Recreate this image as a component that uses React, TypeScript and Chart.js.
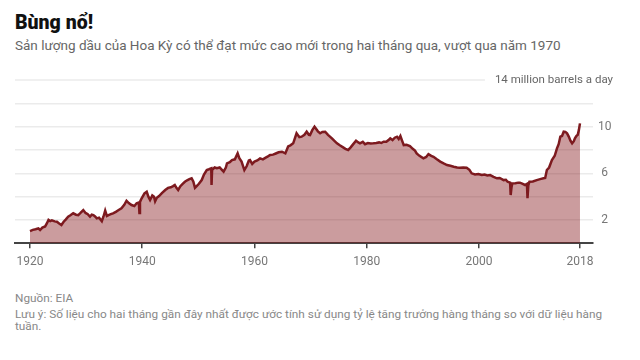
import React, { useEffect, useRef } from "react";
import { Chart, registerables } from "chart.js";

Chart.register(...registerables);

// Decimal years of sampled readings
const years = [
  1920.0, 1920.5, 1921.0, 1921.5, 1921.8, 1922.2, 1922.7, 1923.0, 1923.3, 1923.6,
  1923.9, 1924.4, 1924.8, 1925.2, 1925.6, 1926.0, 1926.4, 1926.8, 1927.2, 1927.7,
  1928.2, 1928.6, 1929.0, 1929.5, 1929.9, 1930.3, 1930.7, 1931.0, 1931.3, 1931.6,
  1931.9, 1932.3, 1932.8, 1933.1, 1933.4, 1933.7, 1934.0, 1934.4, 1934.8, 1935.3,
  1935.8, 1936.3, 1936.8, 1937.2, 1937.6, 1938.1, 1938.6, 1939.0, 1939.4, 1939.5,
  1939.6, 1939.9, 1940.4, 1940.8, 1941.1, 1941.4, 1941.8, 1942.1, 1942.3, 1942.6,
  1943.0, 1943.5, 1944.1, 1944.6, 1945.1, 1945.5, 1945.8, 1946.1, 1946.4, 1946.8,
  1947.2, 1947.6, 1948.0, 1948.4, 1948.8, 1949.1, 1949.4, 1949.7, 1950.1, 1950.6,
  1951.0, 1951.5, 1951.9, 1952.3, 1952.35, 1952.45, 1952.9, 1953.3, 1953.8, 1954.2,
  1954.5, 1954.9, 1955.1, 1955.6, 1956.0, 1956.5, 1957.0, 1957.3, 1957.7, 1958.2,
  1958.6, 1959.0, 1959.2, 1959.6, 1960.0, 1960.5, 1961.0, 1961.5, 1962.0, 1962.4,
  1962.8, 1963.3, 1963.8, 1964.3, 1964.9, 1965.5, 1966.0, 1966.4, 1966.9, 1967.5,
  1968.0, 1968.4, 1968.9, 1969.3, 1969.7, 1969.9, 1970.3, 1970.7, 1971.0, 1971.3,
  1971.7, 1972.1, 1972.6, 1973.1, 1973.8, 1974.2, 1974.7, 1975.2, 1975.8, 1976.2,
  1976.7, 1977.1, 1977.6, 1978.1, 1978.5, 1978.8, 1979.3, 1979.7, 1980.2, 1980.7,
  1981.2, 1981.7, 1982.2, 1982.6, 1983.0, 1983.5, 1984.0, 1984.2, 1984.6, 1985.0,
  1985.4, 1985.7, 1986.0, 1986.3, 1986.6, 1987.1, 1987.7, 1988.2, 1988.6, 1988.9,
  1989.4, 1990.1, 1990.6, 1991.0, 1991.5, 1991.9, 1992.5, 1993.1, 1993.7, 1994.3,
  1994.9, 1995.5, 1996.1, 1996.6, 1997.2, 1997.8, 1998.3, 1998.7, 1999.3, 1999.9,
  2000.5, 2001.0, 2001.5, 2002.0, 2002.6, 2003.2, 2003.7, 2004.4, 2004.8, 2005.1,
  2005.55, 2005.65, 2005.8, 2005.95, 2006.5, 2007.0, 2007.3, 2007.8, 2008.2, 2008.55,
  2008.65, 2008.8, 2009.0, 2009.6, 2010.3, 2010.9, 2011.5, 2011.8, 2012.1, 2012.5,
  2013.0, 2013.5, 2013.9, 2014.2, 2014.5, 2014.8, 2015.1, 2015.4, 2015.7, 2016.0,
  2016.3, 2016.6, 2016.9, 2017.1, 2017.35, 2017.6, 2017.8, 2018.0,
];

// US crude oil production, million barrels a day
const production = [
  1.05, 1.15, 1.2, 1.28, 1.14, 1.35, 1.45, 1.7, 2.0, 1.9,
  1.97, 1.88, 1.85, 1.7, 1.57, 1.85, 2.05, 2.28, 2.4, 2.57,
  2.45, 2.42, 2.6, 2.85, 2.6, 2.5, 2.28, 2.45, 2.42, 2.3,
  2.14, 2.2, 1.9, 2.3, 2.8, 2.35, 2.42, 2.5, 2.57, 2.7,
  2.85, 3.0, 3.3, 3.65, 3.45, 3.28, 3.2, 3.43, 3.5, 2.6,
  3.55, 3.86, 4.28, 4.42, 4.0, 3.71, 4.1, 4.0, 3.6, 3.9,
  4.05, 4.3, 4.57, 4.75, 4.8, 4.9, 5.0, 4.75, 4.57, 4.9,
  5.1, 5.28, 5.4, 5.5, 5.57, 5.3, 4.75, 4.9, 5.1, 5.42,
  5.9, 6.28, 6.35, 6.43, 5.0, 6.3, 6.5, 6.43, 6.5, 6.3,
  6.14, 6.5, 6.85, 6.95, 7.14, 7.2, 7.71, 7.3, 7.0, 6.28,
  6.6, 7.1, 7.14, 6.8, 7.0, 7.1, 7.28, 7.2, 7.35, 7.45,
  7.57, 7.6, 7.7, 7.8, 7.85, 7.71, 8.3, 8.4, 8.57, 9.43,
  9.1, 9.14, 9.3, 9.57, 9.3, 9.28, 9.7, 10.0, 9.8, 9.6,
  9.43, 9.55, 9.57, 9.3, 9.0, 8.8, 8.57, 8.4, 8.22, 8.1,
  8.0, 8.2, 8.5, 8.79, 8.65, 8.57, 8.7, 8.5, 8.6, 8.55,
  8.57, 8.6, 8.65, 8.6, 8.71, 8.7, 8.9, 9.0, 8.85, 9.05,
  9.14, 8.95, 9.2, 8.8, 8.42, 8.45, 8.34, 8.1, 7.95, 7.71,
  7.5, 7.28, 7.4, 7.65, 7.5, 7.42, 7.2, 7.0, 6.85, 6.71,
  6.65, 6.57, 6.5, 6.48, 6.5, 6.48, 6.3, 6.0, 5.9, 5.94,
  5.85, 5.9, 5.82, 5.85, 5.7, 5.57, 5.6, 5.42, 5.45, 5.28,
  5.2, 4.14, 4.8, 5.14, 5.15, 5.2, 5.2, 5.1, 5.0, 5.1,
  3.86, 5.0, 5.28, 5.3, 5.42, 5.5, 5.57, 5.6, 6.28, 6.5,
  7.14, 7.5, 8.14, 8.5, 9.14, 9.2, 9.57, 9.55, 9.43, 9.15,
  8.8, 8.57, 8.75, 9.0, 9.2, 9.3, 9.7, 10.28,
];

const xTickYears = [1920, 1940, 1960, 1980, 2000, 2018];
const yTickValues = [2, 4, 6, 8, 10, 12, 14];
const yLabelledValues = [2, 6, 10];
const topValue = 14;
const topLabel = "14 million barrels a day";

const FONT = "Roboto, 'Noto Sans', sans-serif";
const GRID = "#ebebeb";

export default function App() {
  const ref = useRef<HTMLCanvasElement>(null);

  useEffect(() => {
    if (!ref.current) return;
    const topLinePlugin = {
      id: "topLine",
      beforeDatasetsDraw(chart: any) {
        const { ctx, chartArea, scales } = chart;
        const py = scales.y.getPixelForValue(topValue);
        ctx.save();
        ctx.font = `11.5px ${FONT}`;
        const tx = chartArea.right + 20;
        const w = ctx.measureText(topLabel).width;
        ctx.strokeStyle = GRID;
        ctx.lineWidth = 1.5;
        ctx.beginPath();
        ctx.moveTo(chartArea.left, py);
        ctx.lineTo(tx - w - 10, py);
        ctx.stroke();
        ctx.fillStyle = "#666";
        ctx.textAlign = "right";
        ctx.textBaseline = "middle";
        ctx.fillText(topLabel, tx, py);
        ctx.restore();
      },
    };

    const chart = new Chart(ref.current, {
      type: "line",
      data: {
        datasets: [
          {
            data: years.map((x, i) => ({ x, y: production[i] })),
            borderColor: "#7d1a1f",
            borderWidth: 2.5,
            backgroundColor: "rgba(130,20,25,0.42)",
            fill: "origin",
            pointRadius: 0,
            tension: 0,
          },
        ],
      },
      options: {
        animation: false,
        responsive: false,
        maintainAspectRatio: false,
        layout: { padding: { left: 15, top: 20, right: 0, bottom: 0 } },
        plugins: { legend: { display: false }, tooltip: { enabled: false } },
        scales: {
          x: {
            type: "linear",
            min: 1917.33,
            max: 2020.32,
            z: 1,
            afterBuildTicks: (s: any) => {
              s.ticks = xTickYears.map((v) => ({ value: v }));
            },
            afterFit: (s: any) => {
              s.height = 31.7;
            },
            grid: { drawOnChartArea: false, drawTicks: true, tickLength: 5, color: "#444", lineWidth: 1.5 },
            border: { display: true, color: "#444", width: 2 },
            ticks: {
              font: { family: FONT, size: 12 },
              color: "#777",
              padding: 6,
              maxRotation: 0,
              autoSkip: false,
              callback: (v: any) => String(v),
            },
          },
          y: {
            position: "right",
            min: 0,
            max: 14,
            afterBuildTicks: (s: any) => {
              s.ticks = yTickValues.map((v) => ({ value: v }));
            },
            afterFit: (s: any) => {
              s.width = 47;
            },
            grid: {
              color: (c: any) => (c.tick && c.tick.value === topValue ? "rgba(0,0,0,0)" : GRID),
              lineWidth: 1.5,
              drawTicks: false,
            },
            border: { display: false },
            ticks: {
              font: { family: FONT, size: 12 },
              color: "#777",
              padding: 5,
              crossAlign: "center",
              callback: (v: any) => (yLabelledValues.includes(v) ? String(v) : ""),
            },
          },
        },
      },
      plugins: [topLinePlugin],
    } as any);
    return () => chart.destroy();
  }, []);

  return (
    <div style={{ position: "absolute", left: 0, top: 0, width: 640, height: 360, background: "#fff", fontFamily: FONT }}>
      <div style={{ position: "absolute", left: 15, top: 13, fontSize: 19.5, lineHeight: "19.5px", fontWeight: 900, color: "#111", whiteSpace: "nowrap" }}>
        Bùng nổ!
      </div>
      <div style={{ position: "absolute", left: 15, top: 38, fontSize: 13.5, lineHeight: "14px", color: "#666", whiteSpace: "nowrap" }}>
        Sản lượng dầu của Hoa Kỳ có thể đạt mức cao mới trong hai tháng qua, vượt qua năm 1970
      </div>
      <canvas ref={ref} width={640} height={215} style={{ position: "absolute", left: 0, top: 60, width: 640, height: 215, display: "block" }} />
      <div style={{ position: "absolute", left: 15, top: 292, fontSize: 11.8, lineHeight: "12px", color: "#888", whiteSpace: "nowrap" }}>
        Nguồn: EIA
      </div>
      <div style={{ position: "absolute", left: 15, top: 308, fontSize: 11.8, lineHeight: "12px", color: "#888", whiteSpace: "nowrap" }}>
        Lưu ý: Số liệu cho hai tháng gần đây nhất được ước tính sử dụng tỷ lệ tăng trưởng hàng tháng so với dữ liệu hàng
        <br />
        tuần.
      </div>
    </div>
  );
}
